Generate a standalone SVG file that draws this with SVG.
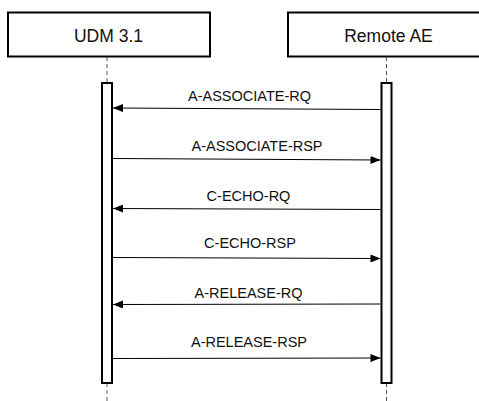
<svg xmlns="http://www.w3.org/2000/svg" width="479" height="401" viewBox="0 0 479 401">
<style>
.box{fill:#fff;stroke:#000;stroke-width:2}
.life{stroke:#555;stroke-width:1;stroke-dasharray:4 3}
.act{fill:#fff;stroke:#000;stroke-width:2}
.msg{stroke:#000;stroke-width:1;fill:none}
.t{font-family:"Liberation Sans",Arial,sans-serif;fill:#111;text-anchor:middle}
.h{font-size:17.5px}
.m{font-size:14.5px}
</style>
<defs>
<marker id="ah" markerWidth="10" markerHeight="8" refX="10" refY="4" orient="auto" markerUnits="userSpaceOnUse">
<path d="M0,0 L10,4 L0,8 Z" fill="#000"/>
</marker>
</defs>
<g id="udm">
<rect class="box" x="8" y="12.5" width="202" height="44"/>
<text class="t h" x="108.5" y="42">UDM 3.1</text>
<line class="life" x1="107" y1="57" x2="107" y2="83"/>
<line class="life" x1="107" y1="383" x2="107" y2="401"/>
<rect class="act" x="102" y="83" width="10" height="300"/>
</g>
<g id="remote">
<rect class="box" x="288" y="12.5" width="200" height="44"/>
<text class="t h" x="388.5" y="42">Remote AE</text>
<line class="life" x1="386.5" y1="57" x2="386.5" y2="83"/>
<line class="life" x1="386.5" y1="383" x2="386.5" y2="401"/>
<rect class="act" x="381.5" y="83" width="10" height="300"/>
</g>
<g id="connectors">
<line class="msg" x1="380.5" y1="109.5" x2="113" y2="108" marker-end="url(#ah)"/>
<line class="msg" x1="113" y1="158.5" x2="380.5" y2="160" marker-end="url(#ah)"/>
<line class="msg" x1="380.5" y1="209.5" x2="113" y2="208.5" marker-end="url(#ah)"/>
<line class="msg" x1="113" y1="257.5" x2="380.5" y2="258.5" marker-end="url(#ah)"/>
<line class="msg" x1="380.5" y1="304" x2="113" y2="304.5" marker-end="url(#ah)"/>
<line class="msg" x1="113" y1="358.5" x2="380.5" y2="358" marker-end="url(#ah)"/>
<text class="t m" x="249.5" y="101">A-ASSOCIATE-RQ</text>
<text class="t m" x="257" y="151">A-ASSOCIATE-RSP</text>
<text class="t m" x="248.5" y="201">C-ECHO-RQ</text>
<text class="t m" x="250" y="248">C-ECHO-RSP</text>
<text class="t m" x="248.5" y="298">A-RELEASE-RQ</text>
<text class="t m" x="249" y="347">A-RELEASE-RSP</text>
</g>
</svg>
